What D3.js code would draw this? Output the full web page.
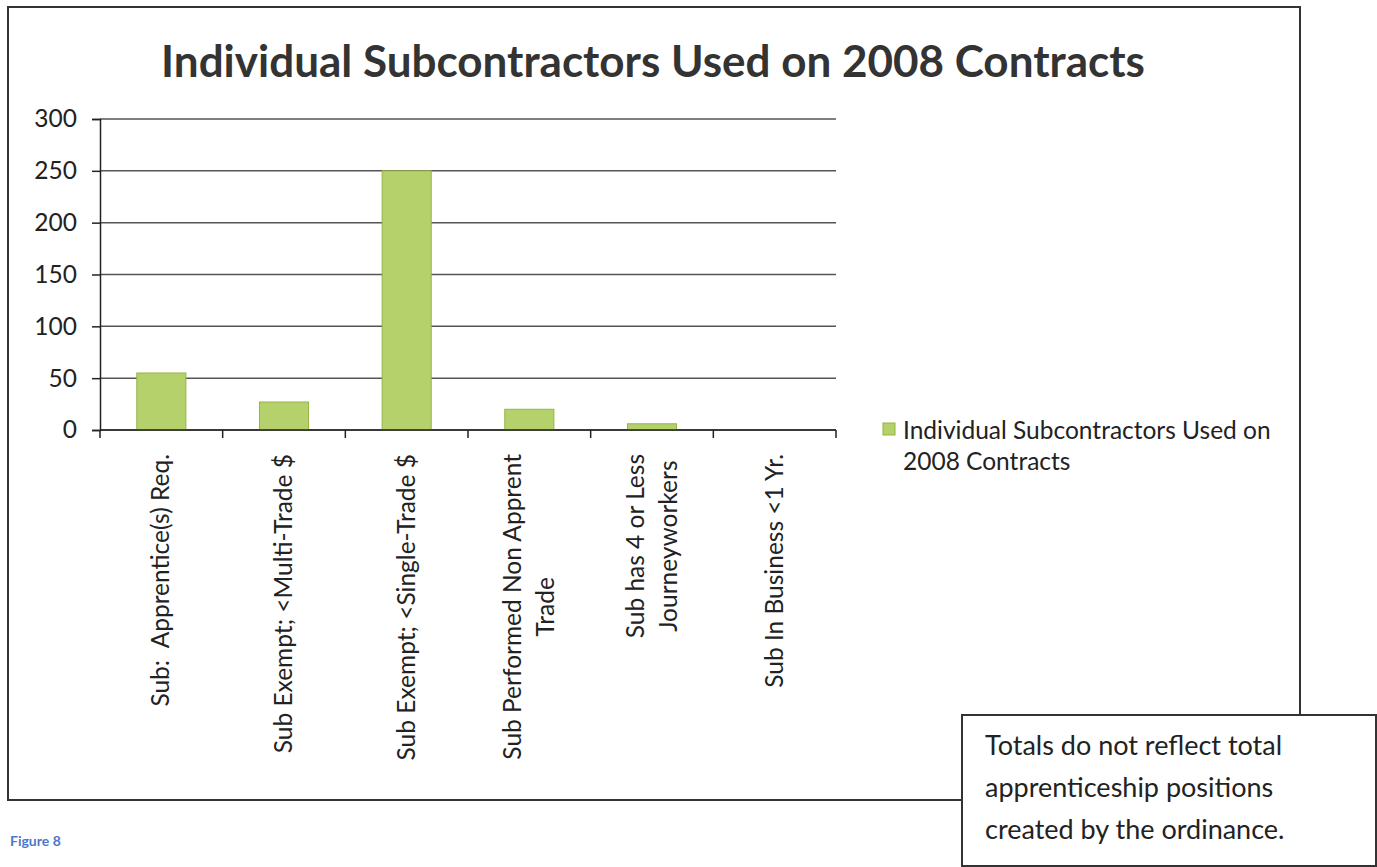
<!DOCTYPE html>
<html>
<head>
<meta charset="utf-8">
<script src="https://cdn.jsdelivr.net/npm/d3@7"></script>
<style>
  body { margin: 0; background: #fff; }
  svg { display: block; font-family: Lato, "Open Sans", sans-serif; }
  text { white-space: pre; }
</style>
</head>
<body>
<svg id="chart" width="1377" height="867"></svg>
<script>
const chartTitle = "Individual Subcontractors Used on 2008 Contracts";
const seriesName = "Individual Subcontractors Used on 2008 Contracts";
// each category label as the lines it wraps into
const categories = [
    ["Sub:  Apprentice(s) Req."],
    ["Sub Exempt; <Multi-Trade $"],
    ["Sub Exempt; <Single-Trade $"],
    ["Sub Performed Non Apprent", "Trade"],
    ["Sub has 4 or Less", "Journeyworkers"],
    ["Sub In Business <1 Yr."]
];
const values = [55, 27, 250, 20, 6, 0];
const yTicks = [0, 50, 100, 150, 200, 250, 300];
const legendLines = ["Individual Subcontractors Used on", "2008 Contracts"];
const noteLines = ["Totals do not reflect total", "apprenticeship positions", "created by the ordinance."];
const figureLabel = "Figure 8";

const svg = d3.select("#chart");

// outer chart frame
svg.append("rect")
    .attr("x", 8).attr("y", 7)
    .attr("width", 1292).attr("height", 793)
    .attr("fill", "none")
    .attr("stroke", "#333")
    .attr("stroke-width", 2);

svg.append("text")
    .attr("x", 653).attr("y", 77)
    .attr("text-anchor", "middle")
    .attr("font-size", 44)
    .attr("font-weight", "bold")
    .attr("fill", "#333")
    .text(chartTitle);

const plot = {left: 100, right: 836, top: 119, bottom: 430};

let x = d3.scaleBand()
    .domain(d3.range(categories.length))
    .range([plot.left, plot.right])
    .paddingInner(0.6)
    .paddingOuter(0.3);

let xTicks = d3.scalePoint()
    .domain(d3.range(categories.length + 1))
    .range([plot.left, plot.right]);

let y = d3.scaleLinear()
    .domain([0, 300])
    .range([plot.bottom, plot.top]);

// gridlines
svg.append("g")
    .selectAll("line")
    .data(yTicks)
    .enter()
    .append("line")
    .attr("x1", plot.left).attr("x2", plot.right)
    .attr("y1", d => y(d)).attr("y2", d => y(d))
    .attr("stroke", "#555")
    .attr("stroke-width", 1.5);

// y axis
let yAxis = svg.append("g")
    .attr("transform", "translate(" + plot.left + ",0)")
    .call(d3.axisLeft(y).tickValues(yTicks).tickSize(8).tickPadding(15));
yAxis.select(".domain").attr("stroke", "#222").attr("stroke-width", 1.5);
yAxis.selectAll(".tick line").attr("stroke", "#222").attr("stroke-width", 1.5);
yAxis.selectAll(".tick text")
    .attr("font-size", 24.5)
    .attr("font-family", "Lato, sans-serif")
    .attr("fill", "#222");

// bars
svg.append("g")
    .selectAll("rect")
    .data(values)
    .enter()
    .append("rect")
    .attr("x", (d, i) => x(i))
    .attr("width", x.bandwidth())
    .attr("y", d => y(d))
    .attr("height", d => y(0) - y(d))
    .attr("fill", "#b5d16b")
    .attr("stroke", "#93b544")
    .attr("stroke-width", 1);

// x axis line and ticks
svg.append("line")
    .attr("x1", plot.left).attr("x2", plot.right)
    .attr("y1", plot.bottom).attr("y2", plot.bottom)
    .attr("stroke", "#222").attr("stroke-width", 1.5);
svg.append("g")
    .selectAll("line")
    .data(xTicks.domain())
    .enter()
    .append("line")
    .attr("x1", d => xTicks(d)).attr("x2", d => xTicks(d))
    .attr("y1", plot.bottom).attr("y2", plot.bottom + 8)
    .attr("stroke", "#222").attr("stroke-width", 1.5);

// rotated category labels, block anchored at the top, lines centred
const lineGap = 33;
let labels = svg.append("g")
    .selectAll("g")
    .data(categories)
    .enter()
    .append("g")
    .attr("transform", (d, i) => "translate(" + (x(i) + x.bandwidth() / 2) + "," + (plot.bottom + 24) + ") rotate(-90)");

labels.each(function(lines) {
    let t = d3.select(this).append("text")
        .attr("font-size", 24.5)
        .attr("fill", "#222")
        .attr("text-anchor", "middle");
    let off = (lines.length - 1) * lineGap / 2;
    lines.forEach((ln, k) => {
        t.append("tspan")
            .attr("x", 0)
            .attr("y", -off + k * lineGap + 8)
            .text(ln);
    });
    // shift so the longest line ends at the top
    let w = d3.max(t.selectAll("tspan").nodes(), n => n.getComputedTextLength());
    t.attr("transform", "translate(" + (-w / 2) + ",0)");
});

// legend
svg.append("rect")
    .attr("x", 883).attr("y", 423)
    .attr("width", 12).attr("height", 12)
    .attr("fill", "#b5d16b")
    .attr("stroke", "#93b544");
svg.append("g")
    .selectAll("text")
    .data(legendLines)
    .enter()
    .append("text")
    .attr("x", 903)
    .attr("y", (d, i) => 439 + i * 31)
    .attr("font-size", 24.5)
    .attr("fill", "#222")
    .text(d => d);

// note box
svg.append("rect")
    .attr("x", 962).attr("y", 715)
    .attr("width", 414).attr("height", 151)
    .attr("fill", "#fff")
    .attr("stroke", "#333")
    .attr("stroke-width", 2);
svg.append("g")
    .selectAll("text")
    .data(noteLines)
    .enter()
    .append("text")
    .attr("x", 985)
    .attr("y", (d, i) => 755 + i * 42)
    .attr("font-size", 27)
    .attr("fill", "#222")
    .text(d => d);

svg.append("text")
    .attr("x", 10).attr("y", 846)
    .attr("font-size", 14)
    .attr("font-weight", "bold")
    .attr("fill", "#4a78cf")
    .text(figureLabel);
</script>
</body>
</html>
